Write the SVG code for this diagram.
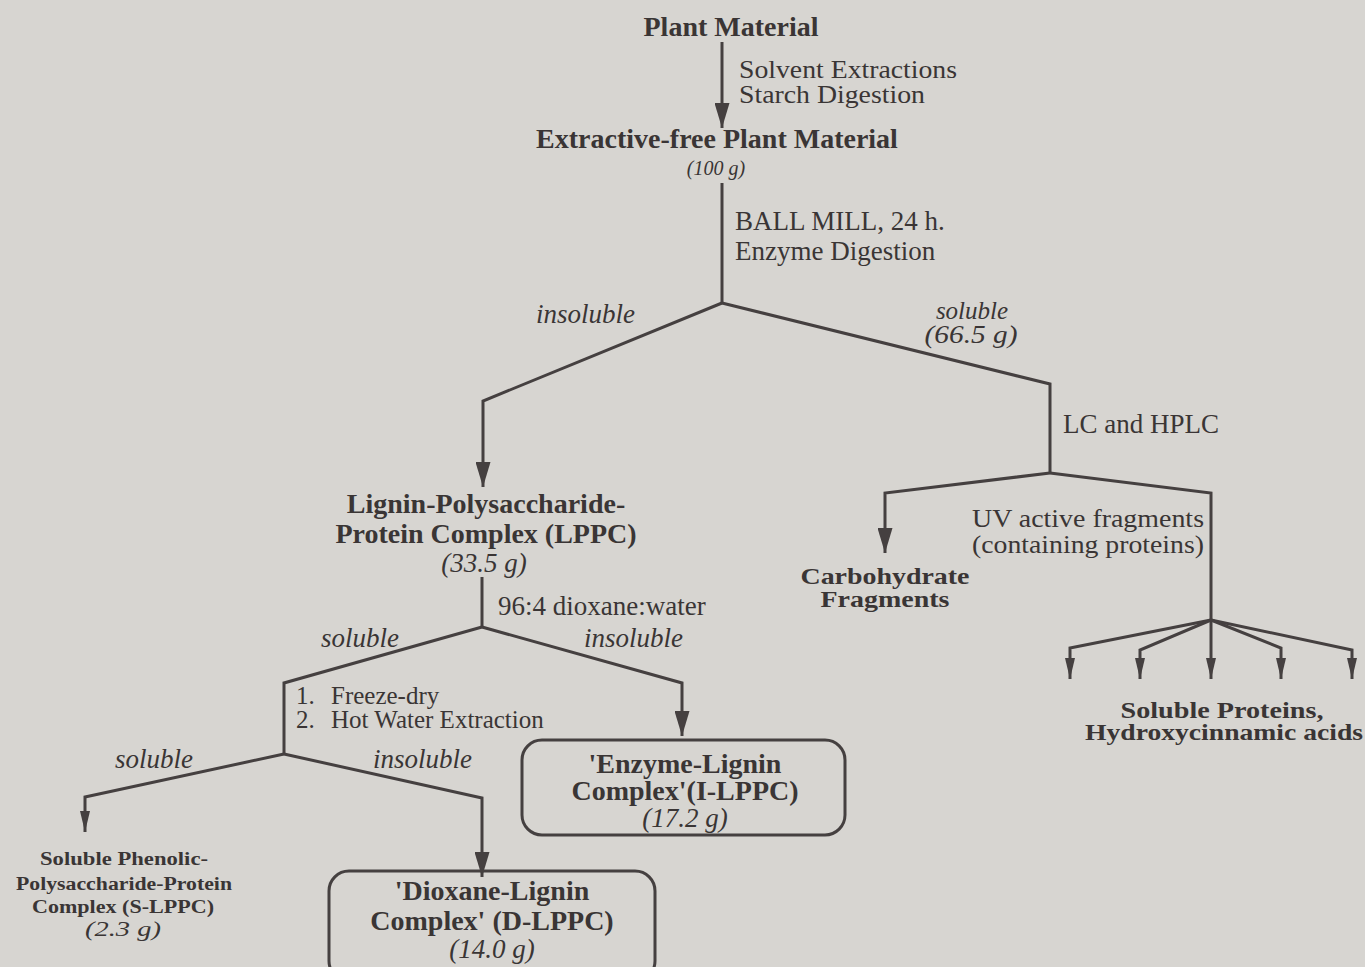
<svg xmlns="http://www.w3.org/2000/svg" width="1365" height="967" viewBox="0 0 1365 967">
<style>
text { font-family: "Liberation Serif", "Times New Roman", serif; fill: #3a3535; }
.b { font-weight: bold; font-size: 28px; }
.bs { font-weight: bold; font-size: 24px; }
.r { font-size: 27px; }
.rs { font-size: 25px; }
.i { font-style: italic; font-size: 27px; }
.is { font-style: italic; font-size: 25px; }
.m { text-anchor: middle; }
.sb { font-weight: bold; font-size: 18px; }
.ln { fill: none; stroke: #454040; stroke-width: 3; stroke-linejoin: miter; }
.box { fill: none; stroke: #454040; stroke-width: 3; }
</style>
<defs>
<marker id="big" viewBox="0 0 25 15" refX="25" refY="7.5" markerWidth="25" markerHeight="15" markerUnits="userSpaceOnUse" orient="auto">
<path d="M0,0 L25,7.5 L0,15 z" fill="#454040"/>
</marker>
<marker id="small" viewBox="0 0 21 10" refX="21" refY="5" markerWidth="21" markerHeight="10" markerUnits="userSpaceOnUse" orient="auto">
<path d="M0,0 L21,5 L0,10 z" fill="#454040"/>
</marker>
</defs>
<rect x="0" y="0" width="1365" height="967" fill="#d7d5d1"/>

<g id="connectors">
<path class="ln" d="M722,42 L722,128" marker-end="url(#big)"/>
<path class="ln" d="M722,183 L722,303"/>
<path class="ln" d="M722,303 L483,401 L483,487" marker-end="url(#big)"/>
<path class="ln" d="M722,303 L1050,384 L1050,473"/>
<path class="ln" d="M1050,473 L885,493 L885,553" marker-end="url(#big)"/>
<path class="ln" d="M1050,473 L1211,493 L1211,620"/>
<path class="ln" d="M1211,620 L1070,648 L1070,679" marker-end="url(#small)"/>
<path class="ln" d="M1211,620 L1140,650 L1140,679" marker-end="url(#small)"/>
<path class="ln" d="M1211,620 L1211,679" marker-end="url(#small)"/>
<path class="ln" d="M1211,620 L1281,648 L1281,679" marker-end="url(#small)"/>
<path class="ln" d="M1211,620 L1352,650 L1352,679" marker-end="url(#small)"/>
<path class="ln" d="M482,577 L482,627"/>
<path class="ln" d="M482,627 L682,683 L682,736" marker-end="url(#big)"/>
<path class="ln" d="M482,627 L284,683 L284,754"/>
<path class="ln" d="M284,754 L85,797 L85,832" marker-end="url(#small)"/>
<path class="ln" d="M284,754 L482,798 L482,877" marker-end="url(#big)"/>
</g>

<g id="edge-labels">
<text class="rs" x="739" y="78" textLength="218" lengthAdjust="spacingAndGlyphs">Solvent Extractions</text>
<text class="rs" x="739" y="103" textLength="186" lengthAdjust="spacingAndGlyphs">Starch Digestion</text>
<text class="r" x="735" y="230">BALL MILL, 24 h.</text>
<text class="r" x="735" y="260">Enzyme Digestion</text>
<text class="i" x="536" y="323">insoluble</text>
<text class="is m" x="972" y="319">soluble</text>
<text class="is m" x="971" y="343" textLength="93" lengthAdjust="spacingAndGlyphs">(66.5 g)</text>
<text class="r" x="1063" y="433">LC and HPLC</text>
<text class="rs" x="972" y="527" textLength="232" lengthAdjust="spacingAndGlyphs">UV active fragments</text>
<text class="rs" x="972" y="553" textLength="232" lengthAdjust="spacingAndGlyphs">(containing proteins)</text>
<text class="r" x="498" y="615">96:4 dioxane:water</text>
<text class="i" x="321" y="647">soluble</text>
<text class="i" x="584" y="647">insoluble</text>
<text class="rs" x="296" y="704">1.<tspan x="331">Freeze-dry</tspan></text>
<text class="rs" x="296" y="728">2.<tspan x="331">Hot Water Extraction</tspan></text>
<text class="i" x="115" y="768">soluble</text>
<text class="i" x="373" y="768">insoluble</text>
</g>

<g id="plant-material">
<text class="b m" x="731" y="36">Plant Material</text>
</g>

<g id="extractive-free">
<text class="b m" x="717" y="148">Extractive-free Plant Material</text>
<text class="i m" x="716" y="175" style="font-size:20px">(100 g)</text>
</g>

<g id="lppc">
<text class="b m" x="486" y="513">Lignin-Polysaccharide-</text>
<text class="b m" x="486" y="543">Protein Complex (LPPC)</text>
<text class="i m" x="484" y="572">(33.5 g)</text>
</g>

<g id="carbohydrate">
<text class="bs m" x="885" y="584" textLength="169" lengthAdjust="spacingAndGlyphs">Carbohydrate</text>
<text class="bs m" x="885" y="607" textLength="129" lengthAdjust="spacingAndGlyphs">Fragments</text>
</g>

<g id="soluble-proteins">
<text class="bs m" x="1222" y="718" textLength="203" lengthAdjust="spacingAndGlyphs">Soluble Proteins,</text>
<text class="bs m" x="1224" y="740" textLength="278" lengthAdjust="spacingAndGlyphs">Hydroxycinnamic acids</text>
</g>

<g id="i-lppc">
<rect class="box" x="522" y="740" width="323" height="95" rx="20" ry="20"/>
<text class="b m" x="685" y="773">'Enzyme-Lignin</text>
<text class="b m" x="685" y="800">Complex'(I-LPPC)</text>
<text class="i m" x="685" y="827">(17.2 g)</text>
</g>

<g id="s-lppc">
<text class="sb m" x="124" y="865" textLength="168" lengthAdjust="spacingAndGlyphs">Soluble Phenolic-</text>
<text class="sb m" x="124" y="890" textLength="216" lengthAdjust="spacingAndGlyphs">Polysaccharide-Protein</text>
<text class="sb m" x="123" y="913" textLength="182" lengthAdjust="spacingAndGlyphs">Complex (S-LPPC)</text>
<text class="is m" x="123" y="936" textLength="76" lengthAdjust="spacingAndGlyphs" style="font-size:22px">(2.3 g)</text>
</g>

<g id="d-lppc">
<rect class="box" x="329" y="871" width="326" height="110" rx="20" ry="20"/>
<text class="b m" x="492" y="900">'Dioxane-Lignin</text>
<text class="b m" x="492" y="930">Complex' (D-LPPC)</text>
<text class="i m" x="492" y="958">(14.0 g)</text>
</g>
</svg>
